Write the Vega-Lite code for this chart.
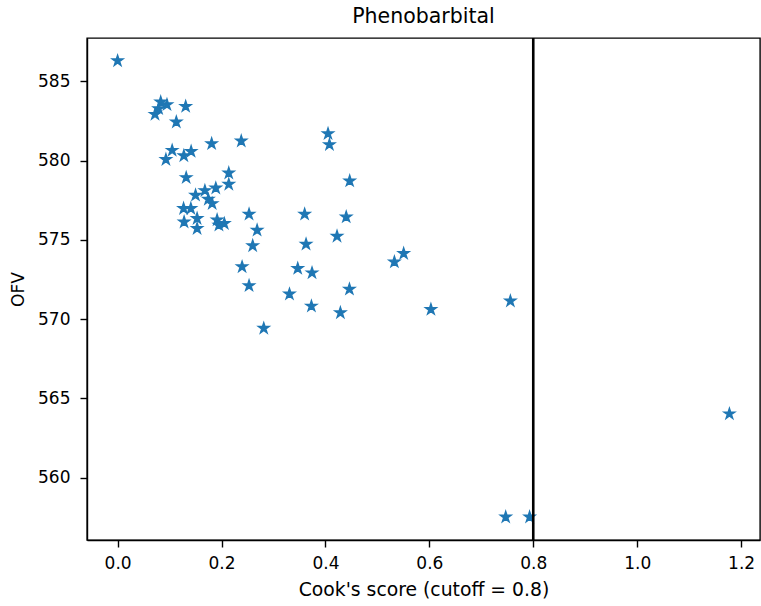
{
  "$schema": "https://vega.github.io/schema/vega-lite/v6.json",
  "width": 673,
  "height": 502,
  "autosize": "none",
  "padding": {"left": 87, "top": 38, "right": 1, "bottom": 66},
  "background": "white",
  "title": {
    "text": "Phenobarbital",
    "font": "DejaVu Sans",
    "fontSize": 20.5,
    "fontWeight": "normal",
    "color": "black",
    "offset": 9
  },
  "config": {
    "view": {"stroke": "black", "strokeWidth": 1.4},
    "axis": {
      "grid": false,
      "domainColor": "black",
      "domainWidth": 1.4,
      "tickColor": "black",
      "tickWidth": 1.4,
      "tickSize": 7,
      "labelFont": "DejaVu Sans",
      "labelFontSize": 17,
      "labelColor": "black",
      "titleFont": "DejaVu Sans",
      "titleFontWeight": "normal",
      "titleColor": "black"
    }
  },
  "data": {
    "values": [
      {"cooks": 0.0, "ofv": 586.3},
      {"cooks": 0.083, "ofv": 583.7},
      {"cooks": 0.095, "ofv": 583.53},
      {"cooks": 0.079, "ofv": 583.28},
      {"cooks": 0.072, "ofv": 582.92},
      {"cooks": 0.131, "ofv": 583.42},
      {"cooks": 0.113, "ofv": 582.44},
      {"cooks": 0.181, "ofv": 581.07},
      {"cooks": 0.238, "ofv": 581.24},
      {"cooks": 0.105, "ofv": 580.65},
      {"cooks": 0.093, "ofv": 580.07},
      {"cooks": 0.1275, "ofv": 580.31},
      {"cooks": 0.1415, "ofv": 580.58},
      {"cooks": 0.132, "ofv": 578.93},
      {"cooks": 0.214, "ofv": 579.22},
      {"cooks": 0.214, "ofv": 578.51},
      {"cooks": 0.15, "ofv": 577.82},
      {"cooks": 0.168, "ofv": 578.11},
      {"cooks": 0.189, "ofv": 578.27},
      {"cooks": 0.1746, "ofv": 577.56},
      {"cooks": 0.182, "ofv": 577.29},
      {"cooks": 0.127, "ofv": 576.98},
      {"cooks": 0.141, "ofv": 576.98},
      {"cooks": 0.128, "ofv": 576.13},
      {"cooks": 0.153, "ofv": 576.35},
      {"cooks": 0.153, "ofv": 575.72},
      {"cooks": 0.1915, "ofv": 576.26},
      {"cooks": 0.2054, "ofv": 576.03},
      {"cooks": 0.195, "ofv": 575.93},
      {"cooks": 0.253, "ofv": 576.62},
      {"cooks": 0.2685, "ofv": 575.61},
      {"cooks": 0.26, "ofv": 574.63},
      {"cooks": 0.2396, "ofv": 573.3},
      {"cooks": 0.253, "ofv": 572.11},
      {"cooks": 0.2813, "ofv": 569.42},
      {"cooks": 0.405, "ofv": 581.7},
      {"cooks": 0.4077, "ofv": 581.01},
      {"cooks": 0.4467, "ofv": 578.72},
      {"cooks": 0.36, "ofv": 576.62},
      {"cooks": 0.44, "ofv": 576.45},
      {"cooks": 0.4223, "ofv": 575.23},
      {"cooks": 0.3627, "ofv": 574.73},
      {"cooks": 0.3467, "ofv": 573.2},
      {"cooks": 0.3742, "ofv": 572.92},
      {"cooks": 0.4462, "ofv": 571.89},
      {"cooks": 0.3308, "ofv": 571.58},
      {"cooks": 0.373, "ofv": 570.82},
      {"cooks": 0.4288, "ofv": 570.4},
      {"cooks": 0.5506, "ofv": 574.14},
      {"cooks": 0.5327, "ofv": 573.61},
      {"cooks": 0.603, "ofv": 570.61},
      {"cooks": 0.756, "ofv": 571.14},
      {"cooks": 0.747, "ofv": 557.51},
      {"cooks": 0.793, "ofv": 557.51},
      {"cooks": 1.1775, "ofv": 564.02}
    ]
  },
  "layer": [
    {
      "mark": {
        "type": "point",
        "shape": "M0,-1L0.2245,-0.309L0.9511,-0.309L0.3633,0.118L0.5878,0.809L0,0.382L-0.5878,0.809L-0.3633,0.118L-0.9511,-0.309L-0.2245,-0.309Z",
        "filled": true,
        "color": "#1f77b4",
        "stroke": "#1f77b4",
        "strokeWidth": 1.4,
        "size": 128,
        "opacity": 1
      },
      "encoding": {
        "x": {
          "field": "cooks",
          "type": "quantitative",
          "scale": {"domain": [-0.0589, 1.2364], "nice": false, "zero": false},
          "axis": {
            "title": "Cook's score (cutoff = 0.8)",
            "values": [0, 0.2, 0.4, 0.6, 0.8, 1.0, 1.2],
            "format": ".1f",
            "labelPadding": 8.5,
            "titleFontSize": 18.8,
            "titlePadding": 9
          }
        },
        "y": {
          "field": "ofv",
          "type": "quantitative",
          "scale": {"domain": [556.06, 587.74], "nice": false, "zero": false},
          "axis": {
            "title": "OFV",
            "values": [560, 565, 570, 575, 580, 585],
            "labelPadding": 10,
            "titleFontSize": 17,
            "titlePadding": 10
          }
        }
      }
    },
    {
      "data": {"values": [{"cutoff": 0.8}]},
      "mark": {"type": "rule", "color": "black", "strokeWidth": 2.6},
      "encoding": {"x": {"field": "cutoff", "type": "quantitative"}}
    }
  ]
}
